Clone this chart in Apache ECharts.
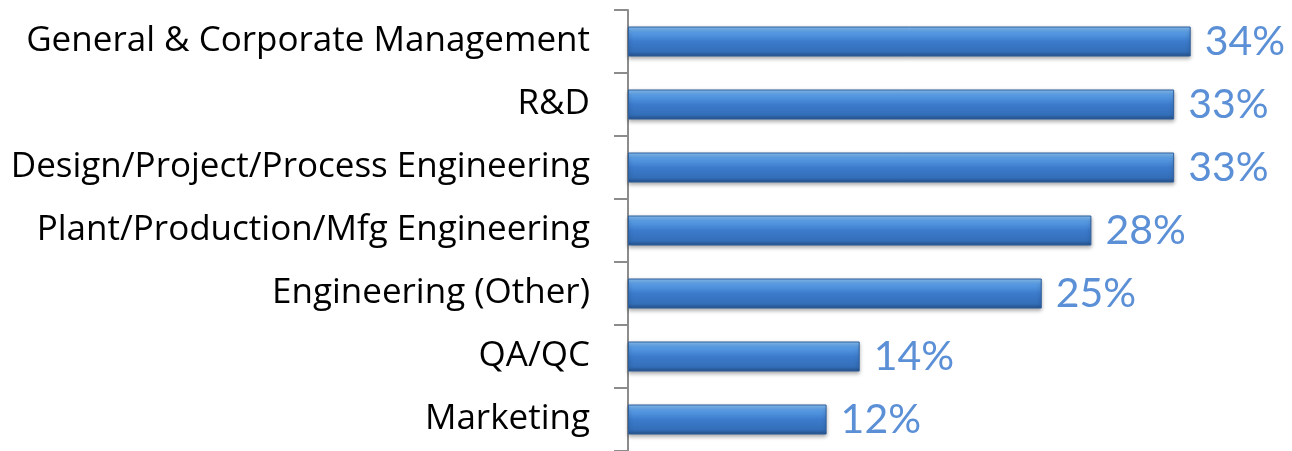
<!DOCTYPE html>
<html>
<head>
<meta charset="utf-8">
<script src="https://cdn.jsdelivr.net/npm/echarts@6/dist/echarts.min.js"></script>
<style>
  html, body { margin: 0; padding: 0; background: #fff; }
  #main { width: 1292px; height: 451px; }
</style>
</head>
<body>
<div id="main"></div>
<script>
var categories = [
    'Marketing',
    'QA/QC',
    'Engineering (Other)',
    'Plant/Production/Mfg Engineering',
    'Design/Project/Process Engineering',
    'R&D',
    'General & Corporate Management'
];
var values = [12, 14, 25, 28, 33, 33, 34];

var chart = echarts.init(document.getElementById('main'));

// bevelled blue bars, like the office chart
var barColor = new echarts.graphic.LinearGradient(0, 0, 0, 1, [
    { offset: 0, color: '#8cc4f5' },
    { offset: 0.18, color: '#5a9ee6' },
    { offset: 0.5, color: '#3c7bcc' },
    { offset: 0.85, color: '#336eb8' },
    { offset: 1, color: '#244f86' }
]);

var option = {
    animation: false,
    grid: {
        left: 628,
        right: 2,
        top: 10,
        bottom: -5
    },
    xAxis: {
        type: 'value',
        min: 0,
        max: 40,
        show: false
    },
    yAxis: {
        type: 'category',
        data: categories,
        axisLine: {
            show: true,
            lineStyle: { color: '#8c8c8c', width: 2 }
        },
        axisTick: {
            show: true,
            length: 14,
            lineStyle: { color: '#8c8c8c', width: 2 }
        },
        axisLabel: {
            margin: 38,
            color: '#000',
            fontSize: 35,
            lineHeight: 40,
            padding: [4, 0, 0, 0],
            fontFamily: 'Open Sans'
        }
    },
    series: [
        {
            type: 'bar',
            data: values,
            barWidth: 30,
            itemStyle: {
                color: barColor,
                borderColor: '#2f5f9c',
                borderWidth: 1,
                shadowBlur: 4,
                shadowOffsetY: 2,
                shadowColor: 'rgba(0,0,0,0.35)'
            },
            label: {
                show: true,
                position: 'right',
                distance: 14,
                formatter: '{c}%',
                color: '#5b8fd6',
                fontSize: 41,
                fontFamily: 'Lato'
            }
        }
    ]
};

chart.setOption(option);
</script>
</body>
</html>
